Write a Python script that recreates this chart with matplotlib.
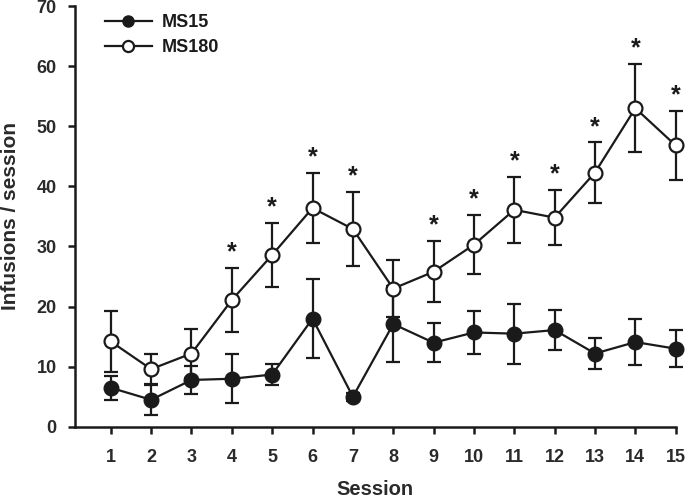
import matplotlib.pyplot as plt
from matplotlib.lines import Line2D
import numpy as np

plt.rcParams['font.family'] = ['Liberation Sans', 'DejaVu Sans']

# Data
sessions = np.arange(1, 16)
ms15 = [6.5, 4.5, 7.8, 8.0, 8.7, 18.0, 5.0, 17.1, 14.0, 15.7, 15.5, 16.1, 12.2, 14.1, 13.0]
ms15_err = [2.0, 2.5, 2.4, 4.1, 1.8, 6.6, 0.7, 6.3, 3.2, 3.6, 5.0, 3.3, 2.5, 3.8, 3.1]
ms180 = [14.2, 9.6, 12.2, 21.1, 28.6, 36.4, 32.9, 23.0, 25.8, 30.3, 36.1, 34.8, 42.3, 53.0, 46.8]
ms180_err = [5.0, 2.5, 4.0, 5.4, 5.3, 5.9, 6.1, 4.8, 5.1, 4.9, 5.5, 4.6, 5.0, 7.3, 5.8]
signif = [4, 5, 6, 7, 9, 10, 11, 12, 13, 14, 15]

ink = '#1a1a1a'
txt = '#2a2a2a'

fig = plt.figure(figsize=(6.86, 5.01), dpi=100)
ax = fig.add_axes([0.109, 0.148, 0.876, 0.840])

ax.errorbar(sessions, ms15, yerr=ms15_err, fmt='-o', color=ink, mfc=ink,
            mec=ink, ms=10.5, lw=1.6, elinewidth=1.6, capsize=5, capthick=1.6,
            clip_on=False, zorder=3)
ax.errorbar(sessions, ms180, yerr=ms180_err, fmt='-o', color=ink, mfc='white',
            mec=ink, mew=1.6, ms=10, lw=1.6, elinewidth=1.6, capsize=5, capthick=1.6,
            clip_on=False, zorder=4)

# significance marks above MS180 error bars
for s in signif:
    i = s - 1
    ax.text(s, ms180[i] + ms180_err[i] + 0.6, '*', ha='center', va='bottom',
            fontsize=18, fontweight='bold', color=ink)

ax.set_xlim(0.108, 15)
ax.set_ylim(0, 70)
ax.set_xticks(sessions)
ax.set_yticks(range(0, 71, 10))
ax.spines['top'].set_visible(False)
ax.spines['right'].set_visible(False)
for sp in ['left', 'bottom']:
    ax.spines[sp].set_linewidth(1.8)
    ax.spines[sp].set_color(ink)
ax.tick_params(width=1.8, length=5, color=ink, labelsize=13, labelcolor=txt)
ax.tick_params(axis='x', pad=11)
ax.tick_params(axis='y', pad=8)
for lab in ax.get_xticklabels() + ax.get_yticklabels():
    lab.set_fontweight('bold')

ax.set_xlabel('Session', fontsize=14.5, fontweight='bold', color=txt, labelpad=10)
ax.set_ylabel('Infusions / session', fontsize=15, fontweight='bold', color=txt, labelpad=12)

handles = [
    Line2D([], [], color=ink, lw=1.6, marker='o', ms=8, mfc=ink, mec=ink),
    Line2D([], [], color=ink, lw=1.6, marker='o', ms=8, mfc='white', mec=ink, mew=1.6),
]
leg = fig.legend(handles, ['MS15', 'MS180'], loc='upper left',
                 bbox_to_anchor=(0.153, 0.972), frameon=False, borderpad=0,
                 borderaxespad=0, handlelength=2.6, handletextpad=0.55,
                 labelspacing=0.45, prop={'weight': 'bold', 'size': 13})
for t in leg.get_texts():
    t.set_color(ink)

fig.savefig('out.png', dpi=100)
